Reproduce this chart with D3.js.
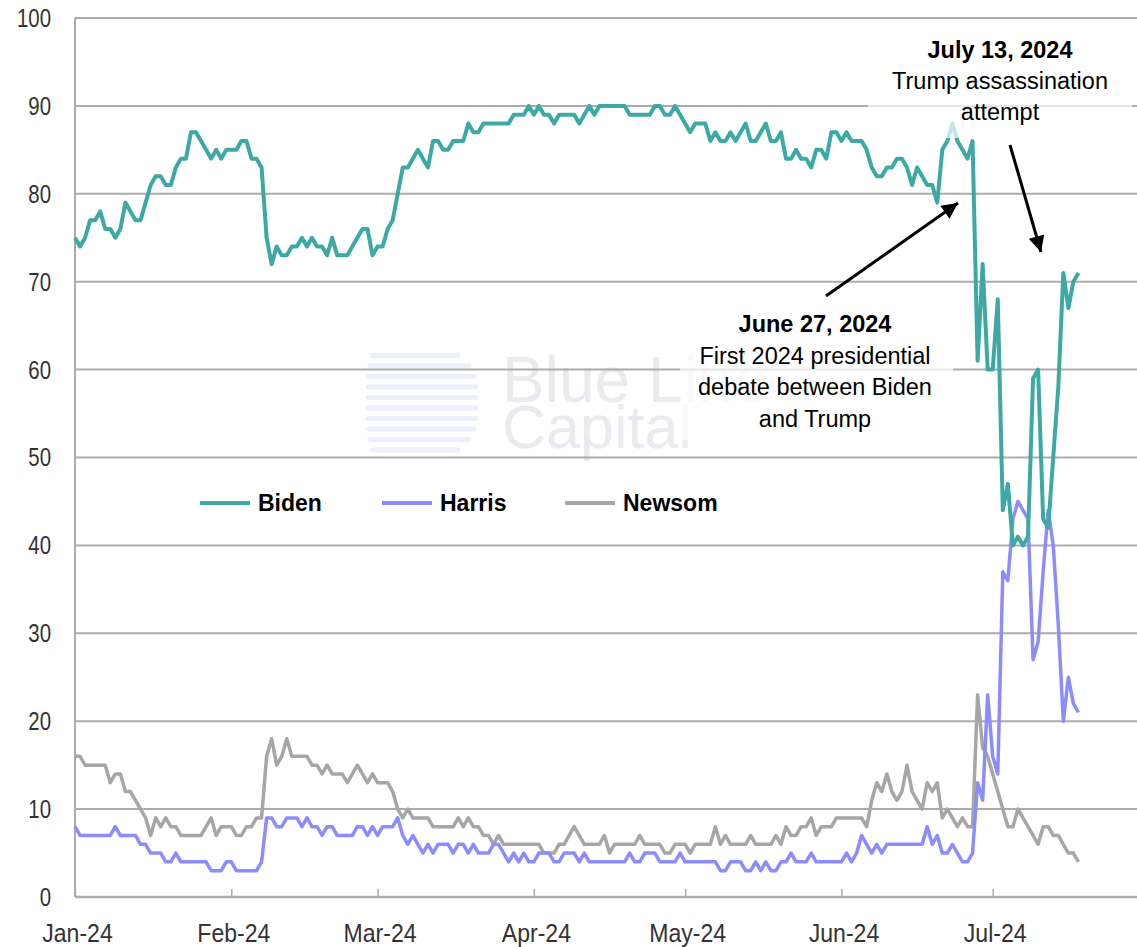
<!DOCTYPE html>
<html>
<head>
<meta charset="utf-8">
<script src="https://cdn.jsdelivr.net/npm/d3@7"></script>
<style>
  body { margin: 0; background: #fff; }
  .tick-label { font-family: "Liberation Sans", Arial, sans-serif; font-size: 26.5px; fill: #333; }
  .note { font-family: "Liberation Sans", Arial, sans-serif; font-size: 23.5px; fill: #000; }
  .legend-text { font-family: "Liberation Sans", Arial, sans-serif; font-size: 23px; font-weight: bold; fill: #000; }
</style>
</head>
<body>
<script>
// daily odds (%), starting 1 Jan 2024
var startDate = new Date(2024, 0, 1);

var bidenOdds = [
  75,74,75,77,77,78,76,76,75,76, 79,78,77,77,79,81,82,82,81,81,
  83,84,84,87,87,86,85,84,85,84, 85,85,85,86,86,84,84,83,75,72,
  74,73,73,74,74,75,74,75,74,74, 73,75,73,73,73,74,75,76,76,73,
  74,74,76,77,80,83,83,84,85,84, 83,86,86,85,85,86,86,86,88,87,
  87,88,88,88,88,88,88,89,89,89, 90,89,90,89,89,88,89,89,89,89,
  88,89,90,89,90,90,90,90,90,90, 89,89,89,89,89,90,90,89,89,90,
  89,88,87,88,88,88,86,87,86,86, 87,86,87,88,86,86,87,88,86,86,
  87,84,84,85,84,84,83,85,85,84, 87,87,86,87,86,86,86,85,83,82,
  82,83,83,84,84,83,81,83,82,81, 81,79,85,86,88,86,85,84,86,61,
  72,60,60,68,44,47,40,41,40,41, 59,60,43,42,50,58,71,67,70,71
];

var harrisOdds = [
  8,7,7,7,7,7,7,7,8,7, 7,7,7,6,6,5,5,5,4,4,
  5,4,4,4,4,4,4,3,3,3, 4,4,3,3,3,3,3,4,9,9,
  8,8,9,9,9,8,9,8,8,7, 8,8,7,7,7,7,8,8,7,8,
  7,8,8,8,9,7,6,7,6,5, 6,5,6,6,6,5,6,6,5,6,
  5,5,5,6,6,5,4,5,4,5, 4,4,5,5,5,4,4,5,5,5,
  4,5,4,4,4,4,4,4,4,4, 5,4,4,5,5,5,4,4,4,4,
  5,4,4,4,4,4,4,4,3,3, 4,4,4,3,3,4,3,4,3,3,
  4,4,5,4,4,4,5,4,4,4, 4,4,4,5,4,5,7,6,5,6,
  5,6,6,6,6,6,6,6,6,8, 6,7,5,5,6,5,4,4,5,13,
  11,23,16,14,37,36,43,45,44,43, 27,29,37,44,40,31,20,25,22,21
];

var newsomOdds = [
  16,16,15,15,15,15,15,13,14,14, 12,12,11,10,9,7,9,8,9,8,
  8,7,7,7,7,7,8,9,7,8, 8,8,7,7,8,8,9,9,16,18,
  15,16,18,16,16,16,16,15,15,14, 15,14,14,14,13,14,15,14,13,14,
  13,13,13,12,10,9,10,9,9,9, 9,8,8,8,8,8,9,8,9,8,
  8,7,7,6,7,6,6,6,6,6, 6,6,6,5,5,5,6,6,7,8,
  7,6,6,6,6,7,5,6,6,6, 6,6,7,6,6,6,6,5,5,6,
  6,6,5,6,6,6,6,8,6,7, 6,6,6,6,7,6,6,6,6,7,
  6,8,7,7,8,8,9,7,8,8, 8,9,9,9,9,9,9,8,11,13,
  12,14,12,11,12,15,12,11,10,13, 12,13,9,10,9,8,9,8,8,23,
  17,16,14,12,10,8,8,10,9,8, 7,6,8,8,7,7,6,5,5,4
];

var seriesNames = ["Biden", "Harris", "Newsom"];
var seriesColors = ["#3da9a4", "#8c8cff", "#a6a6a6"];
var seriesWidths = [4, 3.5, 3.5];
var yTicks = [0, 10, 20, 30, 40, 50, 60, 70, 80, 90, 100];

var svgWidth = 1137, svgHeight = 947,
    margin = {top: 18, right: 0, bottom: 50, left: 75};
var width = svgWidth - margin.left - margin.right,
    height = svgHeight - margin.top - margin.bottom;

var svg = d3.select("body").append("svg")
    .attr("width", svgWidth)
    .attr("height", svgHeight);

var chart = svg.append("g")
    .attr("transform", "translate(" + margin.left + "," + margin.top + ")");

var xScale = d3.scaleTime()
    .domain([startDate, new Date(2024, 6, 31)])
    .range([0, 1069]);
var yScale = d3.scaleLinear().domain([0, 100]).range([height, 0]);

function toPoints(values) {
  return values.map(function (v, i) {
    return {date: d3.timeDay.offset(startDate, i), value: v};
  });
}

// squeeze tick labels so they look like the narrow axis font
function narrow(sel, k) {
  sel.each(function () {
    var len = this.getComputedTextLength();
    d3.select(this)
      .attr("textLength", len * k)
      .attr("lengthAdjust", "spacingAndGlyphs");
  });
}

// watermark
var wm = chart.append("g").attr("class", "watermark");
[0, 1, 2, 3, 4, 5, 6, 7, 8, 9].forEach(function (i) {
  var w = [90, 104, 110, 112, 112, 112, 112, 110, 104, 90][i];
  wm.append("rect")
    .attr("x", 291 + (112 - w) * 0.2)
    .attr("y", 335 + i * 10.5)
    .attr("width", w)
    .attr("height", 5)
    .attr("rx", 2.5)
    .attr("fill", "#eceefa");
});
wm.append("text").attr("x", 427).attr("y", 384)
    .attr("font-family", "Liberation Sans, Arial, sans-serif")
    .attr("font-size", 64).attr("fill", "#ebebef").text("Blue Line");
wm.append("text").attr("x", 427).attr("y", 430)
    .attr("font-family", "Liberation Sans, Arial, sans-serif")
    .attr("font-size", 61).attr("fill", "#ebebef").text("Capital");

// gridlines
chart.append("g").selectAll("line")
    .data(yTicks.slice(1))
    .enter().append("line")
      .attr("x1", 0).attr("x2", width)
      .attr("y1", function (d) { return yScale(d); })
      .attr("y2", function (d) { return yScale(d); })
      .attr("stroke", "#ababab").attr("stroke-width", 2);

// y axis
var yAxis = d3.axisLeft(yScale).tickValues(yTicks).tickSize(0).tickPadding(24);
chart.append("g").call(yAxis)
    .call(function (g) { g.select(".domain").remove(); })
    .selectAll("text").attr("class", "tick-label").attr("font-family", null).attr("font-size", null)
    .call(narrow, 0.77);

chart.append("line")
    .attr("x1", 0).attr("x2", 0).attr("y1", 0).attr("y2", height)
    .attr("stroke", "#ababab").attr("stroke-width", 2);

// x axis
var xAxis = d3.axisBottom(xScale)
    .ticks(d3.timeMonth.every(1))
    .tickFormat(d3.timeFormat("%b-%y"))
    .tickSizeInner(-8).tickSizeOuter(0).tickPadding(26);
var gx = chart.append("g")
    .attr("transform", "translate(0," + height + ")")
    .call(xAxis);
gx.select(".domain").remove();
gx.selectAll(".tick").filter(function (d) { return xScale(d) > width; }).remove();
gx.selectAll(".tick line").attr("stroke", "#ababab").attr("stroke-width", 1.5);
gx.selectAll("text").attr("class", "tick-label").attr("font-family", null).attr("font-size", null)
    .attr("dx", 2)
    .call(narrow, 0.87);

chart.append("line")
    .attr("x1", 0).attr("x2", width).attr("y1", height).attr("y2", height)
    .attr("stroke", "#ababab").attr("stroke-width", 2.5);

// series
var line = d3.line()
    .x(function (d) { return xScale(d.date); })
    .y(function (d) { return yScale(d.value); });

[newsomOdds, harrisOdds, bidenOdds].forEach(function (vals, k) {
  var idx = 2 - k;
  chart.append("path")
    .datum(toPoints(vals))
    .attr("fill", "none")
    .attr("stroke", seriesColors[idx])
    .attr("stroke-width", seriesWidths[idx])
    .attr("stroke-linejoin", "round")
    .attr("d", line);
});

// legend
var legendX = [125, 307, 490];
seriesNames.forEach(function (name, i) {
  var lg = chart.append("g").attr("transform", "translate(" + legendX[i] + ",485)");
  lg.append("line").attr("x1", 0).attr("x2", 50).attr("y1", 0).attr("y2", 0)
    .attr("stroke", seriesColors[i]).attr("stroke-width", 4);
  lg.append("text").attr("class", "legend-text").attr("x", 58).attr("y", 8).text(name);
});

// annotation boxes
chart.append("rect").attr("x", 793).attr("y", 10).attr("width", 264).attr("height", 110)
    .attr("fill", "#fff").attr("opacity", 0.7);
chart.append("rect").attr("x", 605).attr("y", 285).attr("width", 273).attr("height", 137)
    .attr("fill", "#fff").attr("opacity", 0.7);

var julyNote = ["July 13, 2024", "Trump assassination", "attempt"];
julyNote.forEach(function (t, i) {
  chart.append("text").attr("class", "note")
    .attr("x", 925).attr("y", 40 + i * 31)
    .attr("text-anchor", "middle")
    .attr("font-weight", i === 0 ? "bold" : null)
    .text(t);
});

var juneNote = ["June 27, 2024", "First 2024 presidential", "debate between Biden", "and Trump"];
juneNote.forEach(function (t, i) {
  chart.append("text").attr("class", "note")
    .attr("x", 740).attr("y", 314 + i * 31.5)
    .attr("text-anchor", "middle")
    .attr("font-weight", i === 0 ? "bold" : null)
    .text(t);
});

// arrows
svg.append("defs").append("marker")
    .attr("id", "head")
    .attr("viewBox", "0 0 10 10")
    .attr("refX", 10).attr("refY", 5)
    .attr("markerUnits", "userSpaceOnUse")
    .attr("markerWidth", 18).attr("markerHeight", 16)
    .attr("orient", "auto")
  .append("path").attr("d", "M0,0 L10,5 L0,10 z").attr("fill", "#000");

function arrow(x1, y1, x2, y2) {
  chart.append("line")
    .attr("x1", x1 - margin.left).attr("y1", y1 - margin.top)
    .attr("x2", x2 - margin.left).attr("y2", y2 - margin.top)
    .attr("stroke", "#000").attr("stroke-width", 3)
    .attr("marker-end", "url(#head)");
}
arrow(826, 296, 958, 203);
arrow(1010, 145, 1041, 252);
</script>
</body>
</html>
